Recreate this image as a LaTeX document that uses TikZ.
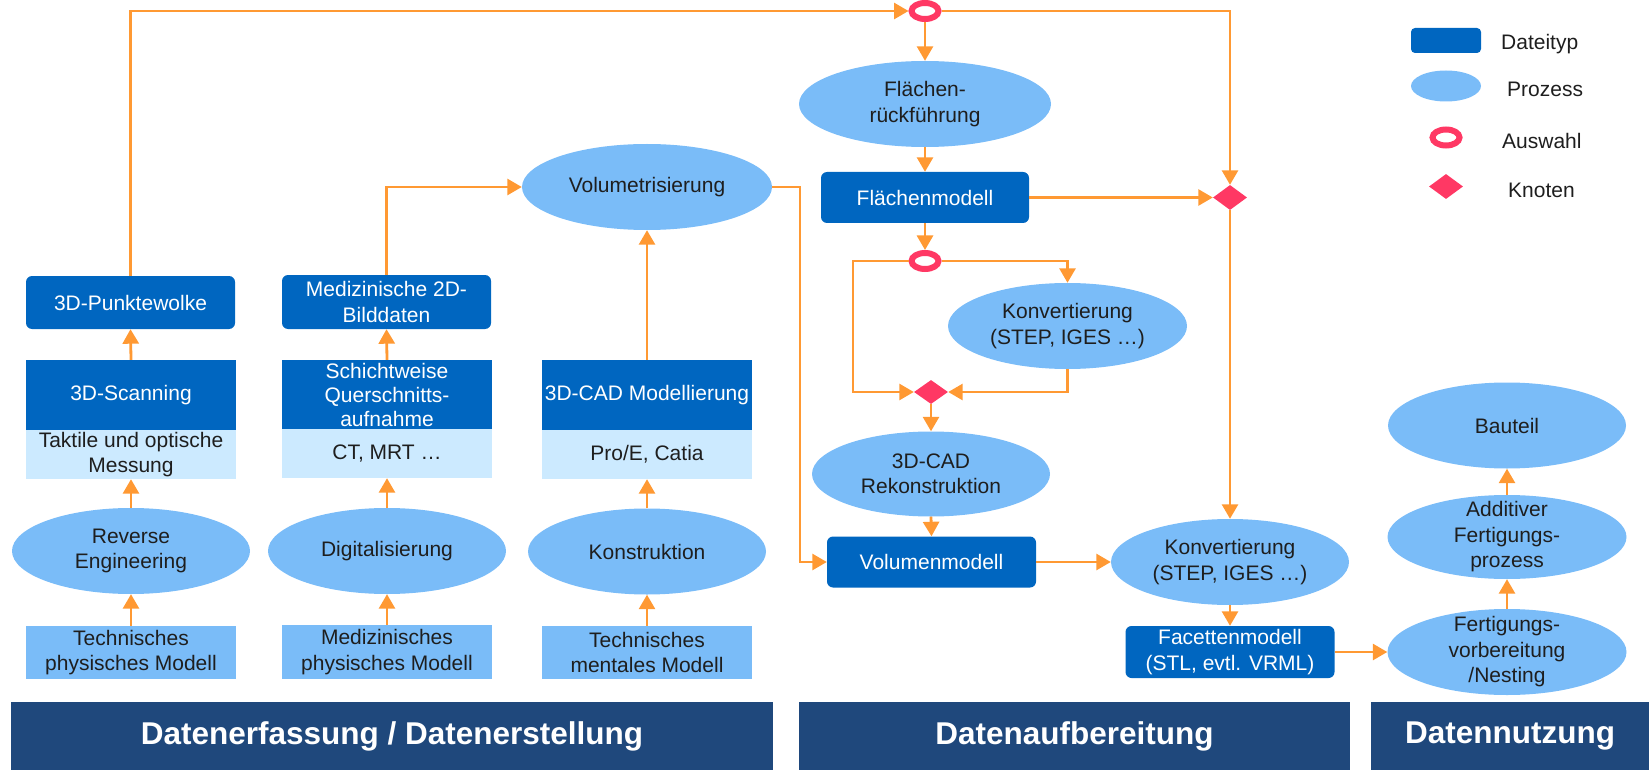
\documentclass[tikz,border=0pt]{standalone}
\usepackage{fontspec}
\setmainfont{Liberation Sans}
\usetikzlibrary{arrows.meta,shapes.geometric}
\definecolor{dblue}{RGB}{0,102,192}
\definecolor{lblue}{RGB}{122,188,248}
\definecolor{vlblue}{RGB}{204,234,255}
\definecolor{orng}{RGB}{255,153,51}
\definecolor{rred}{RGB}{255,56,100}
\definecolor{navy}{RGB}{31,72,124}
\definecolor{txt}{RGB}{30,30,30}
\begin{document}
\begin{tikzpicture}[x=1pt,y=-1pt,
  every node/.style={inner sep=0pt, align=center, font=\fontsize{21}{25.5}\selectfont},
  dtype/.style={rectangle, rounded corners=6pt, fill=dblue, text=white},
  dsq/.style={rectangle, fill=dblue, text=white},
  lsq/.style={rectangle, fill=vlblue, text=txt},
  msq/.style={rectangle, fill=lblue, text=txt},
  proc/.style={ellipse, fill=lblue},
  ptext/.style={text=txt},
  sel/.style={ellipse, draw=rred, fill=white, line width=6pt, minimum width=27pt, minimum height=16pt},
  knot/.style={diamond, fill=rred, minimum width=34pt, minimum height=25pt},
  con/.style={draw=orng, line width=2.8pt, -{Triangle[length=14.5pt,width=16pt]}},
  bar/.style={rectangle, fill=navy, text=white, font=\fontsize{31.5}{36}\selectfont\bfseries, minimum height=68pt},
]
\useasboundingbox (0,0) rectangle (1649,770);

% bottom bars
\node[bar, minimum width=762pt] (b1) at (392,736) {Datenerfassung / Datenerstellung};
\node[bar, minimum width=551pt] (b2) at (1074.5,736) {Datenaufbereitung};
\node[bar, minimum width=278pt] (b3) at (1510,736) {Datennutzung};

% column 1
\node[dtype, minimum width=209pt, minimum height=53pt] (pw) at (130.5,302.5) {3D-Punktewolke};
\node[dsq, minimum width=210pt, minimum height=70pt] (scan) at (131,395) {3D-Scanning};
\node[lsq, minimum width=210pt, minimum height=49pt] (scanm) at (131,454.5) {Taktile und optische\\Messung};
\node[proc, minimum width=238pt, minimum height=86pt] (re) at (131,551) {};
\node[ptext] at (re) {Reverse\\Engineering};
\node[msq, minimum width=210pt, minimum height=53pt] (tpm) at (131,652.5) {Technisches\\physisches Modell};

% column 2
\node[dtype, minimum width=209pt, minimum height=54pt] (med2d) at (386.5,302) {Medizinische 2D-\\Bilddaten};
\node[dsq, minimum width=210pt, minimum height=69pt, font=\fontsize{21}{24}\selectfont] (schicht) at (387,394.5) {Schichtweise\\Querschnitts-\\aufnahme};
\node[lsq, minimum width=210pt, minimum height=49pt] (ct) at (387,453.5) {CT, MRT …};
\node[proc, minimum width=238pt, minimum height=86pt] (dig) at (387,551) {};
\node[ptext] at (dig) {Digitalisierung};
\node[msq, minimum width=210pt, minimum height=54pt] (mpm) at (387,652) {Medizinisches\\physisches Modell};

% column 3
\node[dsq, minimum width=210pt, minimum height=70pt] (cad) at (647,395) {3D-CAD Modellierung};
\node[lsq, minimum width=210pt, minimum height=49pt] (pro) at (647,454.5) {Pro/E, Catia};
\node[proc, minimum width=238pt, minimum height=86pt] (kon) at (647,551.5) {};
\node[ptext] at (kon) {Konstruktion};
\node[msq, minimum width=210pt, minimum height=53pt] (tmm) at (647,652.5) {Technisches\\mentales Modell};

% processing
\node[proc, minimum width=250pt, minimum height=86pt] (volm) at (647,187) {};
\node[ptext] at (volm) {Volumetrisierung};
\node[sel] (ring1) at (925,11) {};
\node[proc, minimum width=252pt, minimum height=86pt] (fr) at (925,104) {};
\node[ptext] at (fr) {Flächen-\\rückführung};
\node[dtype, minimum width=208pt, minimum height=51pt] (flm) at (925,197.5) {Flächenmodell};
\node[sel] (ring2) at (925,261) {};
\node[proc, minimum width=239pt, minimum height=86pt] (konv1) at (1067.5,326) {};
\node[ptext] at (konv1) {Konvertierung\\(STEP, IGES …)};
\node[knot, minimum height=24pt] (dmid) at (931,392) {};
\node[proc, minimum width=238pt, minimum height=85pt] (rek) at (931,474) {};
\node[ptext] at (rek) {3D-CAD\\Rekonstruktion};
\node[dtype, minimum width=209pt, minimum height=51pt] (volmod) at (931.5,562) {Volumenmodell};
\node[knot] (dright) at (1230,197.5) {};
\node[proc, minimum width=238pt, minimum height=86pt] (konv2) at (1230,562) {};
\node[ptext] at (konv2) {Konvertierung\\(STEP, IGES …)};
\node[dtype, minimum width=209pt, minimum height=52pt] (facet) at (1230,652) {Facettenmodell\\(STL, evtl. VRML)};

% usage
\node[proc, minimum width=239pt, minimum height=86pt] (fert) at (1507,652) {};
\node[ptext] at (fert) {Fertigungs-\\vorbereitung\\/Nesting};
\node[proc, minimum width=239pt, minimum height=84pt] (add) at (1507,537) {};
\node[ptext] at (add) {Additiver\\Fertigungs-\\prozess};
\node[proc, minimum width=238pt, minimum height=86pt] (baut) at (1507,425.5) {};
\node[ptext] at (baut) {Bauteil};

% legend
\node[dtype, rounded corners=4pt, minimum width=70pt, minimum height=25pt] (lg1) at (1446,40.5) {};
\node[proc, minimum width=70pt, minimum height=31pt] (lg2) at (1446,86) {};
\node[sel] (lg3) at (1446,137.5) {};
\node[knot] (lg4) at (1446,186.5) {};
\node[ptext, anchor=west] (lt1) at (1501,44) {Dateityp};
\node[ptext, anchor=west] (lt2) at (1507,89) {Prozess};
\node[ptext, anchor=west] (lt3) at (1502,141) {Auswahl};
\node[ptext, anchor=west] (lt4) at (1508,190) {Knoten};

% connectors
\draw[con] (tpm.north) -- (re.south);
\draw[con] (re.north) -- (scanm.south);
\draw[con] (scan.north) -- (pw.south);
\draw[con] (mpm.north) -- (dig.south);
\draw[con] (dig.north) -- (ct.south);
\draw[con] (schicht.north) -- (med2d.south);
\draw[con] (tmm.north) -- (kon.south);
\draw[con] (kon.north) -- (pro.south);
\draw[con] (cad.north) -- (volm.south);
\draw[con] (med2d.north) |- (volm.west);
\draw[con] (pw.north) |- (ring1.west);
\draw[con] (ring1.east) -| (dright.north);
\draw[con] (ring1.south) -- (fr.north);
\draw[con] (fr.south) -- (flm.north);
\draw[con] (flm.south) -- (ring2.north);
\coordinate (lb) at (853,392);
\draw[con] (ring2.west) -| (lb) -- (dmid.west);
\draw[con] (ring2.east) -| (konv1.north);
\draw[con] (konv1.south) |- (dmid.east);
\draw[con] (dmid.south) -- (rek.north);
\draw[con] (rek.south) -- (volmod.north);
\coordinate (vb) at (800,562);
\draw[con] (volm.east) -| (vb) -- (volmod.west);
\draw[con] (volmod.east) -- (konv2.west);
\draw[con] (flm.east) -- (dright.west);
\draw[con] (dright.south) -- (konv2.north);
\draw[con] (konv2.south) -- (facet.north);
\draw[con] (facet.east) -- (fert.west);
\draw[con] (fert.north) -- (add.south);
\draw[con] (add.north) -- (baut.south);
\end{tikzpicture}
\end{document}
